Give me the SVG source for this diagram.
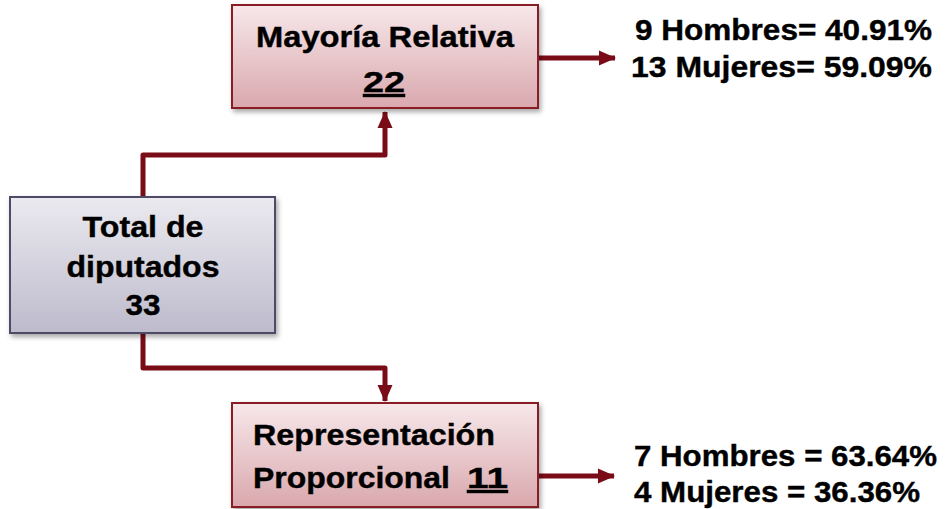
<svg xmlns="http://www.w3.org/2000/svg" width="949" height="509" viewBox="0 0 949 509">
  <defs>
    <linearGradient id="gRed" x1="0" y1="0" x2="0" y2="1">
      <stop offset="0" stop-color="#f7e8ea"/>
      <stop offset="1" stop-color="#d9a8ad"/>
    </linearGradient>
    <linearGradient id="gGray" x1="0" y1="0" x2="0" y2="1">
      <stop offset="0" stop-color="#ebeaf0"/>
      <stop offset="1" stop-color="#bdbbcc"/>
    </linearGradient>
    <filter id="sh" x="-10%" y="-10%" width="125%" height="130%">
      <feDropShadow dx="2" dy="3" stdDeviation="2.5" flood-color="#000" flood-opacity="0.35"/>
    </filter>
    <marker id="ah" markerUnits="userSpaceOnUse" markerWidth="18" markerHeight="18" viewBox="0 0 18 18" refX="16" refY="9" orient="auto">
      <path d="M0,1.5 L17,9 L0,16.5 Z" fill="#7a0c18"/>
    </marker>
    <style>
      .red { fill: url(#gRed); stroke: #8a1a28; stroke-width: 2; }
      .gray { fill: url(#gGray); stroke: #4d4c66; stroke-width: 2; }
      .t { font-family: "Liberation Sans", Arial, sans-serif; font-weight: bold; font-size: 30px; fill: #000; stroke: #000; stroke-width: 0.4; }
      .c { text-anchor: middle; }
      .conn { fill: none; stroke: #7a0c18; stroke-width: 5; stroke-linejoin: round; }
    </style>
  </defs>

  <g id="connectors">
    <path class="conn" d="M143,197 V155 H385 V112" marker-end="url(#ah)"/>
    <path class="conn" d="M143,333 V368 H385 V401" marker-end="url(#ah)"/>
    <path class="conn" d="M538,58 H615" marker-end="url(#ah)"/>
    <path class="conn" d="M538,476 H614" marker-end="url(#ah)"/>
  </g>

  <g id="mayoria">
    <rect class="red" x="232" y="5" width="306" height="103" filter="url(#sh)"/>
    <text class="t c" x="385" y="47" textLength="258" lengthAdjust="spacingAndGlyphs">Mayoría Relativa</text>
    <text class="t c" x="384" y="92" textLength="42" lengthAdjust="spacingAndGlyphs" text-decoration="underline">22</text>
  </g>

  <g id="total">
    <rect class="gray" x="10" y="197" width="265" height="136" filter="url(#sh)"/>
    <text class="t c" x="143" y="237" textLength="121" lengthAdjust="spacingAndGlyphs">Total de</text>
    <text class="t c" x="143" y="277" textLength="153" lengthAdjust="spacingAndGlyphs">diputados</text>
    <text class="t c" x="143" y="315" textLength="35" lengthAdjust="spacingAndGlyphs">33</text>
  </g>

  <g id="representacion">
    <rect class="red" x="232" y="403" width="306" height="104" filter="url(#sh)"/>
    <text class="t" x="253" y="445" textLength="242" lengthAdjust="spacingAndGlyphs">Representación</text>
    <text class="t" x="253" y="488" textLength="197" lengthAdjust="spacingAndGlyphs">Proporcional</text>
    <text class="t" x="467" y="488" textLength="41" lengthAdjust="spacingAndGlyphs" text-decoration="underline">11</text>
  </g>

  <g id="resultado-mr">
    <text class="t" x="635" y="40" textLength="297" lengthAdjust="spacingAndGlyphs">9 Hombres= 40.91%</text>
    <text class="t" x="631" y="77" textLength="301" lengthAdjust="spacingAndGlyphs">13 Mujeres= 59.09%</text>
  </g>

  <g id="resultado-rp">
    <text class="t" x="634" y="466" textLength="303" lengthAdjust="spacingAndGlyphs">7 Hombres = 63.64%</text>
    <text class="t" x="634" y="502" textLength="286" lengthAdjust="spacingAndGlyphs">4 Mujeres = 36.36%</text>
  </g>
</svg>
